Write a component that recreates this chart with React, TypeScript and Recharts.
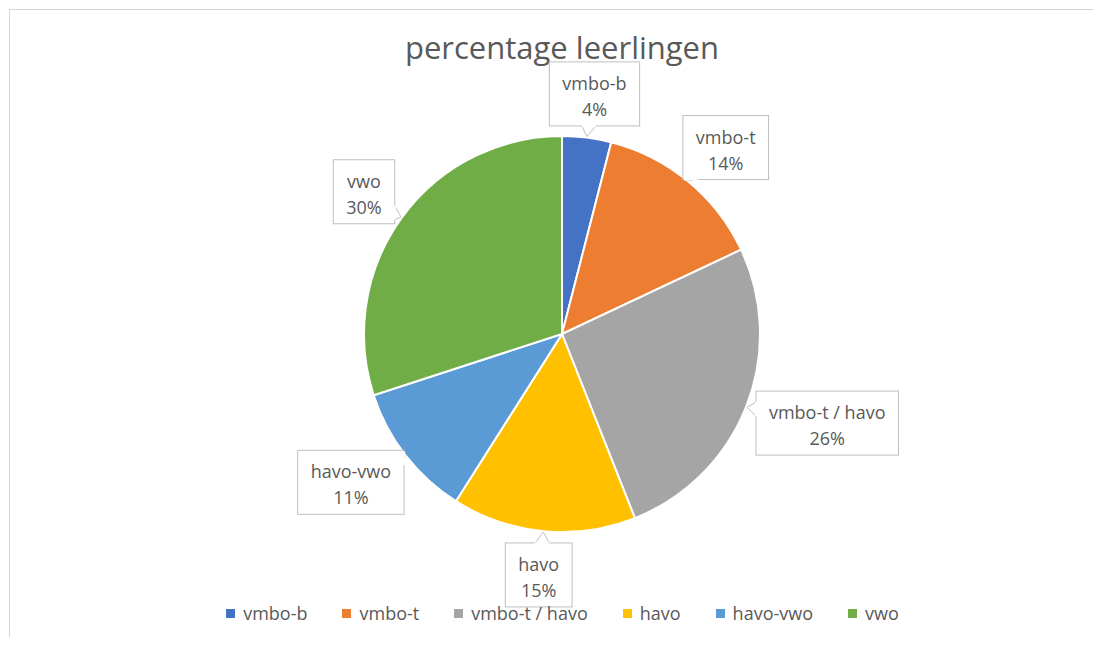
import React from "react";
import { PieChart, Pie, Cell, Legend } from "recharts";

const categories = ["vmbo-b", "vmbo-t", "vmbo-t / havo", "havo", "havo-vwo", "vwo"];
const shares = [4, 14, 26, 15, 11, 30];
const colors = ["#4472C4", "#ED7D31", "#A5A5A5", "#FFC000", "#5B9BD5", "#70AD47"];

const FONT = "'Open Sans', 'Liberation Sans', sans-serif";
const TEXT = "#595959";
const LABEL_SIZE = 18;

const data = categories.map((name, i) => ({ name, value: shares[i] }));

let ctx: CanvasRenderingContext2D | null = null;
function textWidth(s: string, size: number) {
  if (!ctx) ctx = document.createElement("canvas").getContext("2d");
  if (!ctx) return s.length * size * 0.55;
  ctx.font = `${size}px 'Open Sans'`;
  return ctx.measureText(s).width;
}

const RAD = Math.PI / 180;

function CalloutLabel(props: any) {
  const { cx, cy, midAngle, outerRadius, name, value, index } = props;
  const dx = Math.cos(-midAngle * RAD);
  const dy = Math.sin(-midAngle * RAD);
  const pct = `${value}%`;
  const w = Math.max(textWidth(name, LABEL_SIZE), textWidth(pct, LABEL_SIZE)) + 26;
  const h = 64;
  const ax = cx + (outerRadius + 12) * dx;
  const ay = cy + (outerRadius + 12) * dy;
  const bx = ax + dx * (w / 2 + 4);
  const by = ay + dy * (h / 2);
  const hw = w / 2;
  const hh = h / 2;
  const tx = cx + (outerRadius + 1) * dx;
  const ty = cy + (outerRadius + 1) * dy;

  // pointer from box edge to the slice
  let pointer = null;
  const rx = tx - bx;
  const ry = ty - by;
  const sx = Math.abs(rx) > 1e-6 ? hw / Math.abs(rx) : Infinity;
  const sy = Math.abs(ry) > 1e-6 ? hh / Math.abs(ry) : Infinity;
  const t = Math.min(sx, sy);
  if (t < 1) {
    const px = bx + rx * t;
    const py = by + ry * t;
    let b1: [number, number];
    let b2: [number, number];
    if (sx < sy) {
      const yy = Math.max(by - hh + 8, Math.min(by + hh - 8, py));
      b1 = [px, yy - 7];
      b2 = [px, yy + 7];
    } else {
      const xx = Math.max(bx - hw + 8, Math.min(bx + hw - 8, px));
      b1 = [xx - 7, py];
      b2 = [xx + 7, py];
    }
    pointer = (
      <g>
        <path
          d={`M${b1[0]},${b1[1]} L${tx},${ty} L${b2[0]},${b2[1]}`}
          fill="#fff"
          stroke="#bfbfbf"
          strokeWidth={1}
        />
        <line x1={b1[0]} y1={b1[1]} x2={b2[0]} y2={b2[1]} stroke="#fff" strokeWidth={2} />
      </g>
    );
  }

  return (
    <g key={`lbl-${index}`}>
      <rect x={bx - hw} y={by - hh} width={w} height={h} fill="#fff" stroke="#bfbfbf" strokeWidth={1} />
      {pointer}
      <text x={bx} y={by - 11} textAnchor="middle" dominantBaseline="central" fill={TEXT} fontSize={LABEL_SIZE} fontFamily={FONT}>
        {name}
      </text>
      <text x={bx} y={by + 15} textAnchor="middle" dominantBaseline="central" fill={TEXT} fontSize={LABEL_SIZE} fontFamily={FONT}>
        {pct}
      </text>
    </g>
  );
}

function LegendContent() {
  return (
    <div style={{ display: "flex", justifyContent: "center", gap: 35, fontFamily: FONT, fontSize: LABEL_SIZE, color: TEXT }}>
      {categories.map((c, i) => (
        <div key={c} style={{ display: "flex", alignItems: "center" }}>
          <span style={{ width: 9, height: 9, background: colors[i], marginRight: 8, display: "inline-block" }} />
          <span>{c}</span>
        </div>
      ))}
    </div>
  );
}

export default function App() {
  return (
    <div style={{ position: "relative", width: 1101, height: 645, margin: -8, background: "#fff", overflow: "hidden" }}>
      <div style={{ position: "absolute", left: 9, top: 9, right: -2, bottom: -2, borderTop: "1px solid #d4d4d4", borderLeft: "1px solid #d4d4d4" }} />
      <div style={{ position: "absolute", left: 0, width: 1124, top: 26, textAlign: "center", fontFamily: FONT, fontSize: 31, color: TEXT }}>
        percentage leerlingen
      </div>
      <PieChart width={1101} height={645} style={{ position: "absolute", left: 0, top: 0 }}>
        <Pie
          data={data}
          dataKey="value"
          nameKey="name"
          cx={557}
          cy={329}
          outerRadius={198}
          startAngle={90}
          endAngle={-270}
          stroke="#fff"
          strokeWidth={2}
          label={CalloutLabel}
          labelLine={false}
          isAnimationActive={false}
        >
          {data.map((d, i) => (
            <Cell key={d.name} fill={colors[i]} />
          ))}
        </Pie>
        <Legend content={<LegendContent />} verticalAlign="bottom" wrapperStyle={{ bottom: 20, left: 12, width: 1101 }} />
      </PieChart>
    </div>
  );
}
